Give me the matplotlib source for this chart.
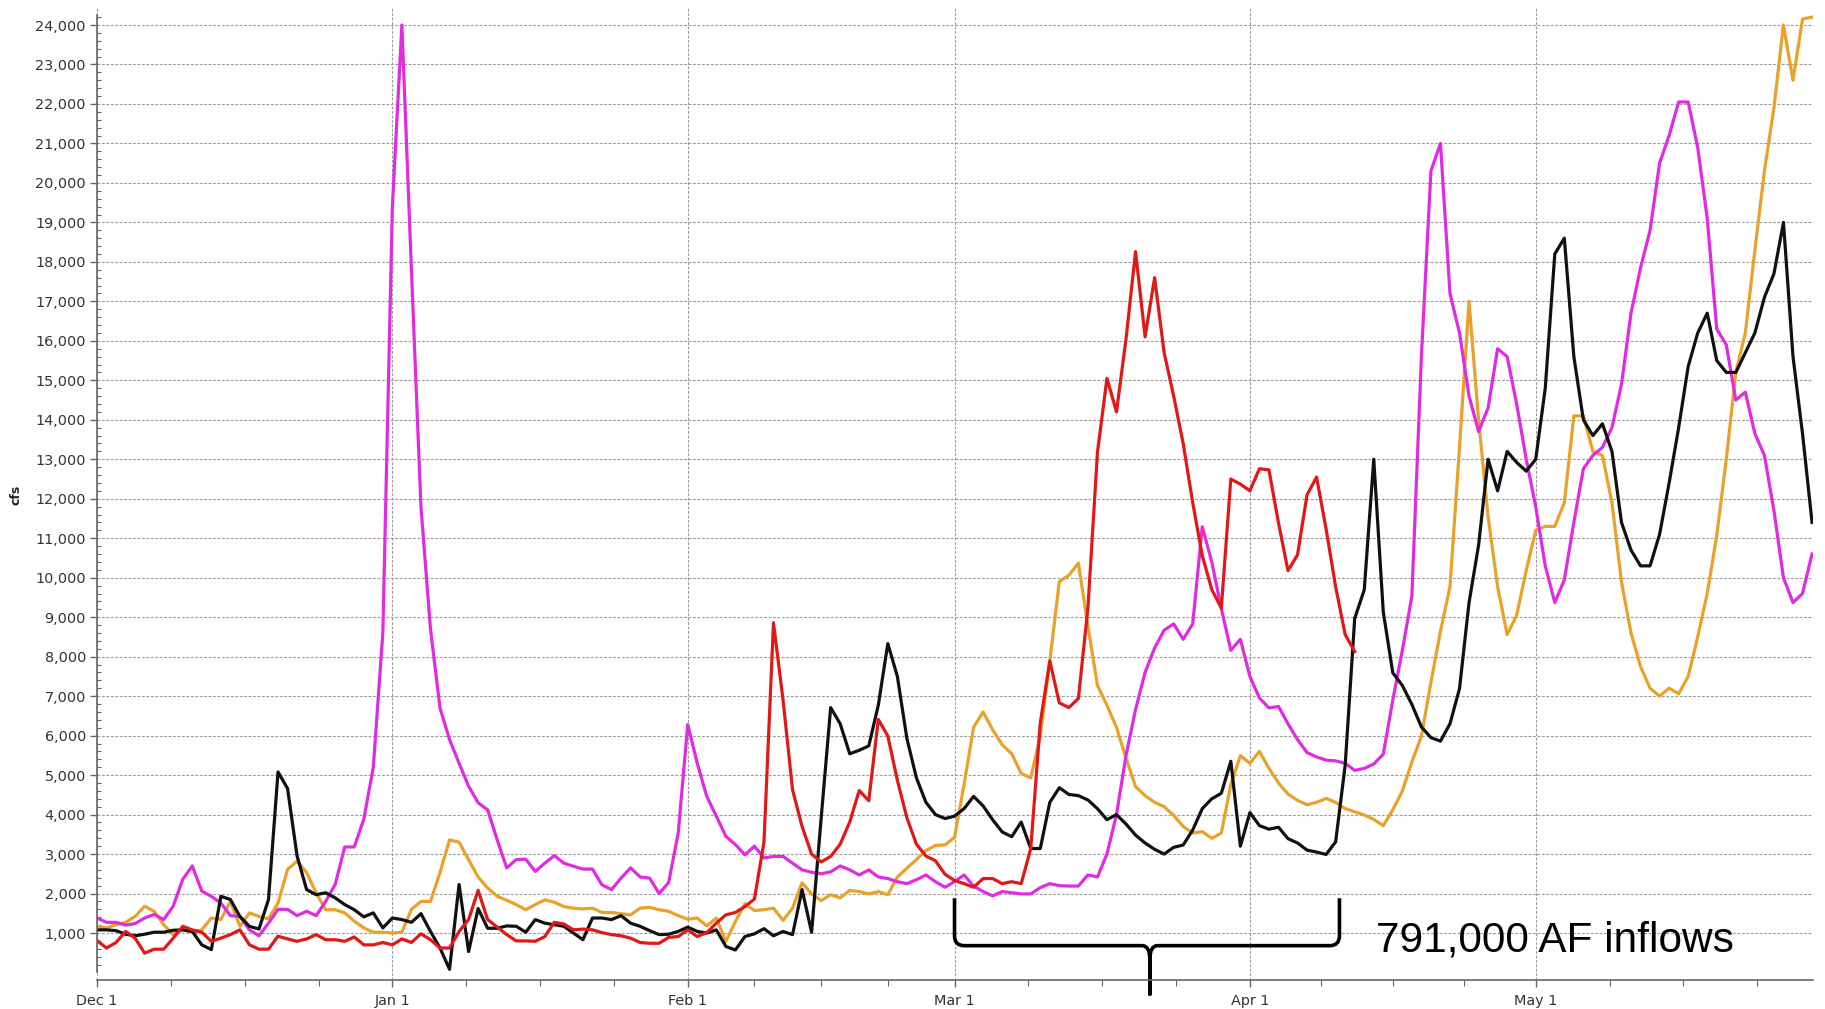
import matplotlib
matplotlib.use('Agg')
import matplotlib.pyplot as plt
from matplotlib.path import Path
from matplotlib.patches import PathPatch
from matplotlib.ticker import FixedLocator, FuncFormatter
import numpy as np

# month starts, counted in days from Dec 1
month_labels = ['Dec 1', 'Jan 1', 'Feb 1', 'Mar 1', 'Apr 1', 'May 1']
month_days = [0, 31, 62, 90, 121, 151]
next_month_day = 182  # Jun 1

# daily flows, thousands of cfs
magenta_k = [1.38, 1.27, 1.27, 1.20, 1.24, 1.38, 1.47, 1.34, 1.68, 2.36,
             2.70, 2.06, 1.93, 1.76, 1.44, 1.42, 1.08, 0.93, 1.25, 1.60,
             1.60, 1.44, 1.55, 1.44, 1.80, 2.23, 3.18, 3.18, 3.88, 5.20,
             8.60, 19.4, 24.0, 17.8, 11.8, 8.70, 6.70, 5.90, 5.30, 4.72,
             4.30, 4.12, 3.36, 2.65, 2.86, 2.87, 2.56, 2.77, 2.96, 2.77,
             2.69, 2.62, 2.62, 2.22, 2.10, 2.39, 2.65, 2.42, 2.39, 2.00,
             2.28, 3.53, 6.28, 5.30, 4.46, 3.96, 3.45, 3.24, 2.98, 3.20,
             2.90, 2.94, 2.94, 2.77, 2.60, 2.54, 2.50, 2.55, 2.70, 2.60,
             2.47, 2.60, 2.42, 2.38, 2.30, 2.25, 2.35, 2.47, 2.30, 2.16,
             2.30, 2.47, 2.19, 2.05, 1.94, 2.05, 2.02, 1.99, 1.99, 2.15,
             2.25, 2.20, 2.19, 2.19, 2.47, 2.42, 3.00, 4.00, 5.50, 6.66,
             7.60, 8.22, 8.67, 8.83, 8.44, 8.83, 11.29, 10.40, 9.22, 8.16,
             8.44, 7.50, 6.95, 6.70, 6.74, 6.30, 5.90, 5.57, 5.46, 5.38,
             5.36, 5.30, 5.12, 5.17, 5.28, 5.53, 6.90, 8.16, 9.53, 15.6,
             20.3, 21.0, 17.2, 16.2, 14.6, 13.7, 14.3, 15.8, 15.6, 14.4,
             13.0, 11.8, 10.3, 9.37, 9.94, 11.4, 12.76, 13.1, 13.3, 13.8,
             14.9, 16.7, 17.85, 18.8, 20.5, 21.2, 22.05, 22.05, 20.9, 19.1,
             16.3, 15.9, 14.5, 14.7, 13.65, 13.1, 11.7, 10.0, 9.37, 9.6,
             10.6]

black_k = [1.08, 1.08, 1.06, 0.97, 0.93, 0.97, 1.02, 1.02, 1.07, 1.08,
           1.04, 0.70, 0.58, 1.93, 1.85, 1.42, 1.17, 1.10, 1.85, 5.08,
           4.66, 2.95, 2.10, 1.97, 2.02, 1.89, 1.72, 1.59, 1.41, 1.51,
           1.13, 1.38, 1.34, 1.27, 1.49, 1.04, 0.62, 0.08, 2.23, 0.53,
           1.62, 1.12, 1.12, 1.18, 1.17, 1.02, 1.34, 1.25, 1.21, 1.17,
           1.00, 0.83, 1.38, 1.38, 1.34, 1.44, 1.25, 1.17, 1.06, 0.96,
           0.97, 1.04, 1.15, 1.04, 1.00, 1.08, 0.66, 0.57, 0.91, 0.98,
           1.11, 0.93, 1.04, 0.96, 2.10, 1.02, 3.90, 6.71, 6.30, 5.54,
           5.63, 5.74, 6.77, 8.33, 7.50, 5.93, 4.93, 4.31, 4.00, 3.90,
           3.96, 4.15, 4.46, 4.22, 3.87, 3.56, 3.44, 3.81, 3.14, 3.14,
           4.31, 4.68, 4.51, 4.48, 4.37, 4.15, 3.87, 4.00, 3.76, 3.48,
           3.28, 3.12, 3.00, 3.17, 3.23, 3.61, 4.15, 4.40, 4.54, 5.35,
           3.20, 4.05, 3.72, 3.63, 3.68, 3.39, 3.28, 3.10, 3.05, 2.99,
           3.31, 5.25, 8.97, 9.69, 13.0, 9.13, 7.59, 7.27, 6.79, 6.22,
           5.95, 5.86, 6.30, 7.19, 9.37, 10.82, 13.0, 12.2, 13.2, 12.92,
           12.7, 13.0, 14.8, 18.2, 18.6, 15.6, 14.0, 13.6, 13.9, 13.2,
           11.4, 10.7, 10.3, 10.3, 11.1, 12.4, 13.8, 15.35, 16.2, 16.7,
           15.5, 15.2, 15.2, 15.7, 16.2, 17.1, 17.7, 19.0, 15.6, 13.65,
           11.4]

orange_k = [1.17, 1.13, 1.21, 1.27, 1.42, 1.68, 1.55, 1.21, 0.96, 1.08,
            1.02, 1.08, 1.38, 1.34, 1.80, 1.17, 1.51, 1.42, 1.36, 1.76,
            2.61, 2.82, 2.53, 2.02, 1.59, 1.59, 1.51, 1.30, 1.13, 1.02,
            1.02, 1.00, 1.02, 1.60, 1.80, 1.80, 2.53, 3.36, 3.30, 2.86,
            2.42, 2.14, 1.93, 1.83, 1.72, 1.59, 1.72, 1.84, 1.78, 1.67,
            1.63, 1.61, 1.63, 1.52, 1.52, 1.49, 1.46, 1.63, 1.65, 1.59,
            1.55, 1.44, 1.35, 1.38, 1.18, 1.38, 0.79, 1.29, 1.74, 1.57,
            1.59, 1.63, 1.32, 1.63, 2.27, 1.99, 1.82, 1.97, 1.89, 2.08,
            2.05, 1.99, 2.05, 1.97, 2.42, 2.64, 2.86, 3.09, 3.22, 3.23,
            3.42, 4.76, 6.21, 6.60, 6.15, 5.77, 5.54, 5.04, 4.93, 5.99,
            7.89, 9.90, 10.06, 10.37, 8.78, 7.27, 6.77, 6.21, 5.43, 4.71,
            4.48, 4.31, 4.20, 3.98, 3.70, 3.53, 3.57, 3.40, 3.53, 4.76,
            5.49, 5.30, 5.60, 5.17, 4.80, 4.52, 4.36, 4.25, 4.31, 4.41,
            4.31, 4.15, 4.07, 3.99, 3.88, 3.72, 4.12, 4.60, 5.33, 5.98,
            7.35, 8.64, 9.77, 13.3, 17.0, 14.0, 11.55, 9.77, 8.56, 9.05,
            10.18, 11.2, 11.3, 11.3, 11.9, 14.1, 14.1, 13.2, 13.1, 11.9,
            9.9, 8.6, 7.75, 7.2, 7.0, 7.2, 7.06, 7.5, 8.5, 9.6,
            11.07, 13.0, 15.2, 16.2, 18.3, 20.3, 21.9, 24.0, 22.6, 24.15,
            24.2]

red_k = [0.81, 0.62, 0.76, 1.04, 0.87, 0.49, 0.59, 0.59, 0.87, 1.17,
         1.08, 1.02, 0.79, 0.87, 0.96, 1.08, 0.70, 0.59, 0.59, 0.92,
         0.85, 0.79, 0.85, 0.96, 0.83, 0.83, 0.79, 0.90, 0.70, 0.70,
         0.76, 0.70, 0.85, 0.76, 0.98, 0.83, 0.62, 0.62, 1.04, 1.34,
         2.08, 1.34, 1.15, 0.96, 0.80, 0.80, 0.79, 0.91, 1.27, 1.23,
         1.08, 1.10, 1.08, 1.01, 0.96, 0.93, 0.87, 0.76, 0.74, 0.74,
         0.89, 0.91, 1.08, 0.91, 1.01, 1.25, 1.46, 1.52, 1.67, 1.86,
         3.30, 8.86, 6.91, 4.63, 3.70, 3.00, 2.80, 2.94, 3.25, 3.81,
         4.61, 4.35, 6.41, 5.99, 4.87, 3.92, 3.25, 2.95, 2.83, 2.49,
         2.33, 2.25, 2.16, 2.38, 2.38, 2.25, 2.30, 2.25, 3.14, 6.32,
         7.89, 6.83, 6.71, 6.94, 9.23, 13.17, 15.05, 14.2, 16.05, 18.26,
         16.1, 17.6, 15.7, 14.6, 13.4, 11.9, 10.56, 9.7, 9.23, 12.5,
         12.37, 12.2, 12.76, 12.73, 11.39, 10.18, 10.58, 12.1, 12.55, 11.23,
         9.77, 8.56, 8.13]

series = [
    (orange_k, '#E8A22C'),
    (magenta_k, '#E02CE0'),
    (black_k, '#111111'),
    (red_k, '#E01818'),
]

# inflow window marked by the brace (days from Dec 1)
brace_start, brace_end, brace_mid = 90, 130.4, 110.5
brace_top, brace_line, brace_tip = 1880, 680, -550
note = '791,000 AF inflows'

fig = plt.figure(figsize=(18.25, 10.09), dpi=100)
ax = fig.add_axes([97 / 1825, 1 - 980 / 1009, (1813 - 97) / 1825, (980 - 7) / 1009])

for vals, col in series:
    vals = np.array(vals) * 1000
    ax.plot(np.arange(len(vals)), vals, color=col, lw=2.3)

ax.set_xlim(0, 180.1)
ax.set_ylim(-190, 24456)

# y axis
ax.yaxis.set_major_locator(FixedLocator(np.arange(1000, 24001, 1000)))
ax.yaxis.set_minor_locator(FixedLocator([v for v in range(0, 24201, 200) if v % 1000]))
ax.yaxis.set_major_formatter(FuncFormatter(lambda v, p: '{:,.0f}'.format(v)))

# x axis: month starts, minor ticks split each month in quarters
bounds = month_days + [next_month_day]
minor_x = []
for a, b in zip(bounds[:-1], bounds[1:]):
    minor_x += [a + k * (b - a) / 4 for k in (1, 2, 3)]
ax.xaxis.set_major_locator(FixedLocator(month_days))
ax.xaxis.set_minor_locator(FixedLocator([m for m in minor_x if m < 180]))
ax.set_xticklabels(month_labels)

ax.grid(True, which='major', color='#9a9a9a', lw=0.8, linestyle=(0, (2.5, 1.5)))
ax.set_axisbelow(True)

for s in ['top', 'right']:
    ax.spines[s].set_visible(False)
ax.spines['left'].set_bounds(0, 24250)
for s in ['left', 'bottom']:
    ax.spines[s].set_color('#666666')
    ax.spines[s].set_linewidth(1.2)

ax.tick_params(axis='y', which='major', direction='out', length=5, width=1,
               color='#666666', labelsize=10.4, labelcolor='#333333', pad=3)
ax.tick_params(axis='y', which='minor', direction='in', length=3, width=0.8, color='#666666')
ax.tick_params(axis='x', which='major', direction='out', length=5, width=1,
               color='#666666', labelsize=10.4, labelcolor='#333333', pad=5)
ax.tick_params(axis='x', which='minor', direction='out', length=4, width=0.8, color='#666666')

fig.text(16 / 1825, 1 - 495 / 1009, 'cfs', rotation=90, fontsize=9,
         fontweight='bold', ha='center', va='center', color='#222222')

# curly brace under the spring inflow period
verts = [
    (brace_start, brace_top),
    (brace_start, brace_line + 250),
    (brace_start, brace_line), (brace_start + 1.0, brace_line),
    (brace_mid - 0.8, brace_line),
    (brace_mid, brace_line), (brace_mid, brace_line - 350),
    (brace_mid, brace_tip),
    (brace_mid, brace_line - 350),
    (brace_mid, brace_line), (brace_mid + 0.8, brace_line),
    (brace_end - 1.0, brace_line),
    (brace_end, brace_line), (brace_end, brace_line + 250),
    (brace_end, brace_top),
]
codes = [Path.MOVETO, Path.LINETO, Path.CURVE3, Path.CURVE3, Path.LINETO,
         Path.CURVE3, Path.CURVE3, Path.LINETO, Path.LINETO,
         Path.CURVE3, Path.CURVE3, Path.LINETO, Path.CURVE3, Path.CURVE3,
         Path.LINETO]
ax.add_patch(PathPatch(Path(verts, codes), fill=False, ec='black', lw=2.6,
                       clip_on=False, joinstyle='round'))

ax.text(134.2, 820, note, fontsize=30.5, family='Liberation Sans',
        ha='left', va='center', color='black')

fig.savefig('out.png', dpi=100)
